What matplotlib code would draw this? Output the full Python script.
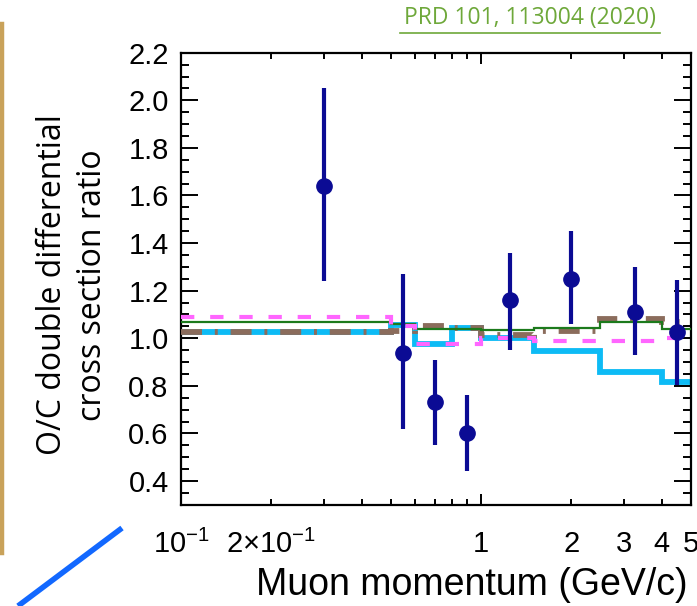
import numpy as np
import matplotlib
matplotlib.use("Agg")
import matplotlib.pyplot as plt
from matplotlib.ticker import FixedLocator, FuncFormatter, MultipleLocator
from matplotlib.lines import Line2D

plt.rcParams['font.family'] = ['Liberation Sans', 'DejaVu Sans']
plt.rcParams['mathtext.fontset'] = 'custom'
plt.rcParams['mathtext.rm'] = 'Liberation Sans'
plt.rcParams['mathtext.it'] = 'Liberation Sans'

# bin edges of the momentum histogram (GeV/c)
bin_edges = [0.1, 0.5, 0.6, 0.8, 1.0, 1.5, 2.5, 4.0, 5.0]

# data points: O/C ratio with errors
data_p = [0.3, 0.55, 0.7, 0.9, 1.25, 2.0, 3.25, 4.5]
data_ratio = [1.64, 0.94, 0.73, 0.60, 1.16, 1.25, 1.11, 1.025]
data_err_up = [0.41, 0.33, 0.18, 0.16, 0.20, 0.20, 0.19, 0.22]
data_err_dn = [0.40, 0.32, 0.18, 0.16, 0.21, 0.19, 0.18, 0.22]

# model predictions per bin
cyan_model = [1.025, 1.055, 0.975, 1.045, 1.00, 0.945, 0.86, 0.815]
brown_model = [1.025, 1.03, 1.05, 1.045, 1.015, 1.03, 1.08, 1.07]
green_model = [1.07, 1.06, 1.04, 1.04, 1.035, 1.045, 1.07, 1.04]
magenta_model = [1.09, 1.05, 0.975, 0.975, 1.00, 0.99, 0.99, 1.00]

fig = plt.figure(figsize=(6.97, 6.06), dpi=100)
ax = fig.add_axes([0.260, 0.167, 0.731, 0.746])

ax.stairs(cyan_model, bin_edges, baseline=None, color='#0dbbf5', lw=4.2, zorder=2)
ax.stairs(brown_model, bin_edges, baseline=None, color='#8b6c5c', lw=4.2,
          linestyle=(0, (3.6, 2.2, 0.5, 2.2)), zorder=3)
ax.stairs(green_model, bin_edges, baseline=None, color='#1c7a1c', lw=1.6, zorder=4)
ax.stairs(magenta_model, bin_edges, baseline=None, color='#ff66ff', lw=3.0,
          linestyle=(0, (3.2, 3.8)), zorder=5)

ax.errorbar(data_p, data_ratio, yerr=[data_err_dn, data_err_up], fmt='o',
            color='#0b0b94', ms=11, elinewidth=3, capsize=0, zorder=6)

ax.set_xscale('log')
ax.set_xlim(0.1, 5.0)
ax.set_ylim(0.3, 2.2)

# log axis: long ticks at decades, short ticks elsewhere, ROOT-like labels
ax.xaxis.set_major_locator(FixedLocator([0.1, 1.0]))
ax.xaxis.set_minor_locator(FixedLocator([0.2, 0.3, 0.4, 0.5, 0.6, 0.7, 0.8, 0.9,
                                         2.0, 3.0, 4.0, 5.0]))
major_names = {0.1: r'$10^{-1}$', 1.0: '1'}
minor_names = {0.2: r'$2{\times}10^{-1}$', 2.0: '2', 3.0: '3', 4.0: '4', 5.0: '5'}
ax.xaxis.set_major_formatter(FuncFormatter(lambda v, p: major_names.get(round(v, 3), '')))
ax.xaxis.set_minor_formatter(FuncFormatter(lambda v, p: minor_names.get(round(v, 3), '')))

ax.yaxis.set_major_locator(MultipleLocator(0.2))
ax.yaxis.set_minor_locator(MultipleLocator(0.05))
ax.yaxis.set_major_formatter(FuncFormatter(lambda v, p: f'{v:.1f}'))

ax.tick_params(axis='both', which='both', direction='in', top=True, right=True,
               labelsize=21, colors='black', width=1.4)
ax.tick_params(axis='x', which='major', length=8, pad=18)
ax.tick_params(axis='x', which='minor', length=4, pad=18)
ax.tick_params(axis='y', which='major', length=12, pad=9)
ax.tick_params(axis='y', which='minor', length=6)
for s in ax.spines.values():
    s.set_linewidth(1.6)

ax.set_xlabel('Muon momentum (GeV/c)', fontsize=27)
ax.xaxis.set_label_coords(0.57, -0.138)

fig.text(0.104, 0.53, 'O/C double differential\ncross section ratio', rotation=90,
         ha='center', va='center', fontsize=23, family=['Open Sans', 'DejaVu Sans'],
         linespacing=1.3)

fig.text(0.760, 0.970, 'PRD 101, 113004 (2020)', ha='center', va='center',
         fontsize=16.5, color='#6ea83a', family=['Open Sans', 'DejaVu Sans'])
fig.add_artist(Line2D([400 / 697, 660 / 697], [1 - 33 / 606, 1 - 33 / 606],
                      transform=fig.transFigure, color='#6ea83a', lw=1.2))

# slide decorations: tan bar on the left and blue stroke at bottom left
fig.add_artist(Line2D([0.003, 0.003], [1 - 24 / 606, 1 - 553 / 606], transform=fig.transFigure,
                      color='#c9a25a', lw=3.2))
fig.add_artist(Line2D([18 / 697, 122 / 697], [0.0, 1 - 528 / 606], transform=fig.transFigure,
                      color='#1268ff', lw=4.0, solid_capstyle='butt'))

fig.savefig('out.png', dpi=100)
